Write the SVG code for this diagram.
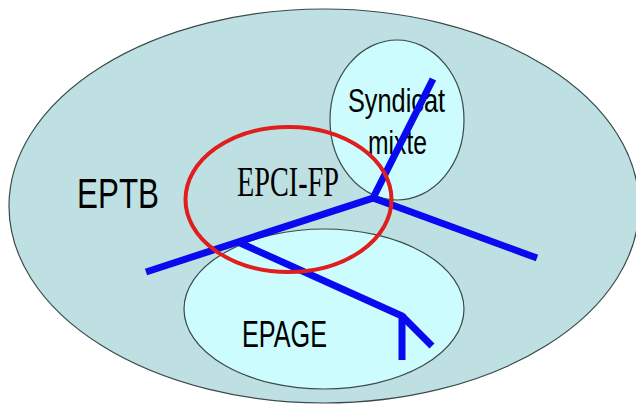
<svg xmlns="http://www.w3.org/2000/svg" width="636" height="405" viewBox="0 0 636 405">
  <style>
    .zone { stroke: #3a4a4a; stroke-width: 1.2; }
    .outer { fill: #bfe0e2; }
    .inner { fill: #ccfcfd; }
    .sans { font-family: "Liberation Sans", Arial, sans-serif; fill: #000; }
    .serif { font-family: "Liberation Serif", "Times New Roman", serif; fill: #000; }
    .river { fill: none; stroke: #0a0af0; stroke-width: 7; stroke-linejoin: miter; stroke-linecap: butt; }
    .epci { fill: none; stroke: #e01e1e; stroke-width: 4; }
  </style>
  <rect width="636" height="405" fill="#ffffff"/>
  <g id="eptb">
    <ellipse class="zone outer" cx="324" cy="206" rx="315" ry="197"/>
    <text class="sans" x="77" y="208" font-size="42" textLength="82" lengthAdjust="spacingAndGlyphs">EPTB</text>
  </g>
  <g id="syndicat-mixte">
    <ellipse class="zone inner" cx="397" cy="120" rx="67" ry="80"/>
    <text class="sans" x="348" y="112" font-size="33" textLength="97" lengthAdjust="spacingAndGlyphs">Syndicat</text>
    <text class="sans" x="368" y="154" font-size="33" textLength="59" lengthAdjust="spacingAndGlyphs">mixte</text>
  </g>
  <g id="epage">
    <ellipse class="zone inner" cx="324" cy="309" rx="140" ry="80"/>
    <text class="sans" x="242" y="347" font-size="36" textLength="85" lengthAdjust="spacingAndGlyphs">EPAGE</text>
  </g>
  <g id="epci-fp-label">
    <text class="serif" x="237" y="196" font-size="42" textLength="102" lengthAdjust="spacingAndGlyphs">EPCI-FP</text>
  </g>
  <g id="connectors">
    <polyline class="river" points="146,272 373,198 433,79"/>
    <line class="river" x1="373" y1="198" x2="537" y2="258"/>
    <polyline class="river" points="238,242 402,316 432,346"/>
    <line class="river" x1="402" y1="314" x2="402" y2="360"/>
  </g>
  <g id="epci-fp">
    <ellipse class="epci" cx="288.5" cy="199.5" rx="103" ry="72.5"/>
  </g>
</svg>
